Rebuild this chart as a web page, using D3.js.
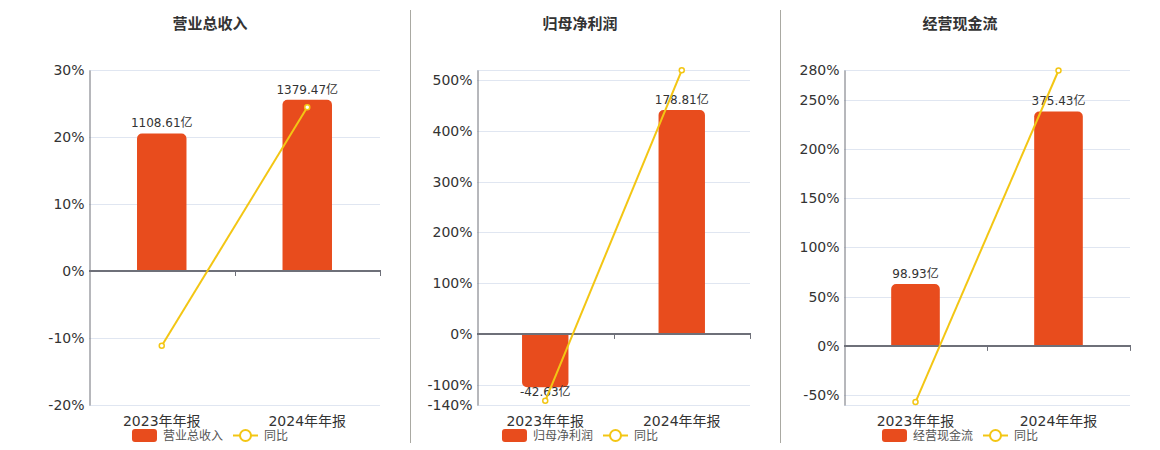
<!DOCTYPE html>
<html>
<head>
<meta charset="utf-8">
<script src="https://cdn.jsdelivr.net/npm/d3@7"></script>
<style>
  body { margin: 0; background: #fff; }
  svg { font-family: "DejaVu Sans", "Noto Sans CJK SC", sans-serif; }
</style>
</head>
<body>
<div id="chart"></div>
<script>
// Data

let categories = [`2023年年报`, `2024年年报`]
let titles = [`营业总收入`, `归母净利润`, `经营现金流`]
let barValues = [[1108.61, 1379.47], [-42.63, 178.81], [98.93, 375.43]]
let yoyValues = [[-11.17, 24.43], [-131.8, 519.45], [-57.0, 279.49]]
let pctDomains = [[-20, 30], [-140, 520], [-60, 280]]
let pctTicks = [
  [-20, -10, 0, 10, 20, 30],
  [-140, -100, 0, 100, 200, 300, 400, 500],
  [-50, 0, 50, 100, 150, 200, 250, 280],
]
let barAxisMax = [1620, 210.8, 441.8]

// Layout

let chartWidth = 1160
let chartHeight = 450
let plotTop = 70
let plotBottom = 405
let panels = [
  { left: 89, right: 380, center: 210 },
  { left: 477, right: 750, center: 580 },
  { left: 844, right: 1130, center: 960 },
]
let separators = [410, 780]

// Colors

let barColor = `#e84c1d`
let lineColor = `#f3c614`
let axisColor = `#6e7079`
let gridColor = `#e0e6f1`
let textColor = `#333`

let svg = d3.select(`#chart`).append(`svg`)
  .attr(`width`, chartWidth)
  .attr(`height`, chartHeight)

separators.forEach(x => {
  svg.append(`line`)
    .attr(`x1`, x + 0.5).attr(`x2`, x + 0.5)
    .attr(`y1`, 10).attr(`y2`, 443)
    .attr(`stroke`, `#aaa9a2`)
})

let roundedBar = (x, y0, y1, w, r) => {
  // y0 = baseline, y1 = value end; only the value end is rounded
  let h = Math.abs(y1 - y0)
  r = Math.min(r, h / 2, w / 2)
  let s = y1 <= y0 ? 1 : -1
  let p = d3.path()
  p.moveTo(x, y0)
  p.lineTo(x, y1 + s * r)
  p.arcTo(x, y1, x + r, y1, r)
  p.lineTo(x + w - r, y1)
  p.arcTo(x + w, y1, x + w, y1 + s * r, r)
  p.lineTo(x + w, y0)
  p.closePath()
  return p.toString()
}

panels.forEach((panel, i) => {
  let g = svg.append(`g`)

  let x = d3.scaleBand()
    .domain(categories)
    .range([panel.left, panel.right])

  let [pMin, pMax] = pctDomains[i]
  let y = d3.scaleLinear()
    .domain([pMin, pMax])
    .range([plotBottom, plotTop])

  let barMax = barAxisMax[i]
  let yBar = d3.scaleLinear()
    .domain([barMax * pMin / pMax, barMax])
    .range([plotBottom, plotTop])

  // Title
  g.append(`text`)
    .attr(`x`, panel.center)
    .attr(`y`, 29)
    .attr(`text-anchor`, `middle`)
    .attr(`font-size`, 15)
    .attr(`font-weight`, `bold`)
    .attr(`fill`, textColor)
    .text(titles[i])

  // Gridlines (ticks plus domain ends)
  let gridValues = Array.from(new Set([pMin, ...pctTicks[i], pMax]))
  g.append(`g`).selectAll(`line`)
    .data(gridValues.filter(d => d !== 0))
    .join(`line`)
    .attr(`x1`, panel.left)
    .attr(`x2`, panel.right)
    .attr(`y1`, d => Math.round(y(d)) + 0.5)
    .attr(`y2`, d => Math.round(y(d)) + 0.5)
    .attr(`stroke`, gridColor)

  // y axis
  let yAxis = g.append(`g`)
    .attr(`transform`, `translate(${panel.left + 0.5},0)`)
    .call(d3.axisLeft(y).tickValues(pctTicks[i]).tickSize(0).tickPadding(5).tickFormat(d => `${d}%`))
  yAxis.attr(`font-family`, null)
  yAxis.select(`.domain`).attr(`stroke`, axisColor)
  yAxis.selectAll(`text`)
    .attr(`font-size`, 14)
    .attr(`fill`, textColor)

  // Bars
  let bw = x.bandwidth() * 0.34
  g.append(`g`).selectAll(`path`)
    .data(barValues[i])
    .join(`path`)
    .attr(`d`, (d, j) => roundedBar(
      x(categories[j]) + (x.bandwidth() - bw) / 2,
      yBar(0),
      yBar(d),
      bw,
      5
    ))
    .attr(`fill`, barColor)

  // Zero axis
  let zeroY = y(0)
  g.append(`line`)
    .attr(`x1`, panel.left)
    .attr(`x2`, panel.right + 1)
    .attr(`y1`, zeroY)
    .attr(`y2`, zeroY)
    .attr(`stroke`, axisColor)
    .attr(`stroke-width`, 2)

  g.append(`g`).selectAll(`line`)
    .data(categories)
    .join(`line`)
    .attr(`x1`, d => Math.round(x(d) + x.bandwidth()) + 0.5)
    .attr(`x2`, d => Math.round(x(d) + x.bandwidth()) + 0.5)
    .attr(`y1`, zeroY)
    .attr(`y2`, zeroY + 5)
    .attr(`stroke`, axisColor)

  // Bar labels
  g.append(`g`).selectAll(`text`)
    .data(barValues[i])
    .join(`text`)
    .attr(`x`, (d, j) => x(categories[j]) + x.bandwidth() / 2)
    .attr(`y`, d => d >= 0 ? yBar(d) - 6 : yBar(d) + 9)
    .attr(`text-anchor`, `middle`)
    .attr(`font-size`, 12)
    .attr(`fill`, textColor)
    .text(d => `${d.toFixed(2)}亿`)

  // Category labels
  g.append(`g`).selectAll(`text`)
    .data(categories)
    .join(`text`)
    .attr(`x`, d => x(d) + x.bandwidth() / 2)
    .attr(`y`, 426)
    .attr(`text-anchor`, `middle`)
    .attr(`font-size`, 14)
    .attr(`fill`, textColor)
    .text(d => d)

  // YoY line
  let line = d3.line()
    .x((d, j) => x(categories[j]) + x.bandwidth() / 2)
    .y(d => y(d))

  g.append(`path`)
    .datum(yoyValues[i])
    .attr(`d`, line)
    .attr(`fill`, `none`)
    .attr(`stroke`, lineColor)
    .attr(`stroke-width`, 2)

  g.append(`g`).selectAll(`circle`)
    .data(yoyValues[i])
    .join(`circle`)
    .attr(`cx`, (d, j) => x(categories[j]) + x.bandwidth() / 2)
    .attr(`cy`, d => y(d))
    .attr(`r`, 2.5)
    .attr(`fill`, `#fff`)
    .attr(`stroke`, lineColor)
    .attr(`stroke-width`, 1.5)

  // Legend
  let legend = g.append(`g`)
  legend.append(`rect`)
    .attr(`x`, 0).attr(`y`, 429)
    .attr(`width`, 25).attr(`height`, 13)
    .attr(`rx`, 3)
    .attr(`fill`, barColor)
  let t1 = legend.append(`text`)
    .attr(`x`, 31).attr(`y`, 440)
    .attr(`font-size`, 12)
    .attr(`fill`, `#555`)
    .text(titles[i])
  let lx = 31 + t1.node().getComputedTextLength() + 10
  legend.append(`line`)
    .attr(`x1`, lx).attr(`x2`, lx + 25)
    .attr(`y1`, 435.5).attr(`y2`, 435.5)
    .attr(`stroke`, lineColor)
    .attr(`stroke-width`, 2)
  legend.append(`circle`)
    .attr(`cx`, lx + 12.5).attr(`cy`, 435.5)
    .attr(`r`, 5.5)
    .attr(`fill`, `#fff`)
    .attr(`stroke`, lineColor)
    .attr(`stroke-width`, 2)
  legend.append(`text`)
    .attr(`x`, lx + 31).attr(`y`, 440)
    .attr(`font-size`, 12)
    .attr(`fill`, `#555`)
    .text(`同比`)
  let bb = legend.node().getBBox()
  legend.attr(`transform`, `translate(${panel.center - bb.width / 2},0)`)
})
</script>
</body>
</html>
